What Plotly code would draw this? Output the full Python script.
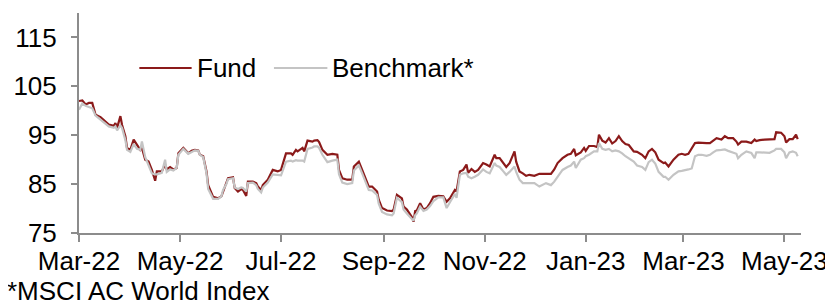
import plotly.graph_objects as go

dates = [
    "2022-03-01", "2022-03-03", "2022-03-05", "2022-03-07", "2022-03-09", "2022-03-11", "2022-03-14", "2022-03-17",
    "2022-03-19", "2022-03-22", "2022-03-23", "2022-03-24", "2022-03-26", "2022-03-27", "2022-03-29", "2022-03-30",
    "2022-04-01", "2022-04-03", "2022-04-05", "2022-04-07", "2022-04-08", "2022-04-10", "2022-04-12", "2022-04-14",
    "2022-04-16", "2022-04-17", "2022-04-20", "2022-04-22", "2022-04-23", "2022-04-25", "2022-04-27", "2022-04-29",
    "2022-04-30", "2022-05-03", "2022-05-06", "2022-05-08", "2022-05-10", "2022-05-12", "2022-05-13", "2022-05-15",
    "2022-05-17", "2022-05-18", "2022-05-21", "2022-05-24", "2022-05-26", "2022-05-27", "2022-05-29", "2022-05-30",
    "2022-06-02", "2022-06-03", "2022-06-05", "2022-06-07", "2022-06-08", "2022-06-10", "2022-06-11", "2022-06-14",
    "2022-06-16", "2022-06-17", "2022-06-19", "2022-06-20", "2022-06-23", "2022-06-26", "2022-06-29", "2022-07-01",
    "2022-07-04", "2022-07-07", "2022-07-08", "2022-07-10", "2022-07-11", "2022-07-14", "2022-07-15", "2022-07-17",
    "2022-07-20", "2022-07-21", "2022-07-23", "2022-07-24", "2022-07-26", "2022-07-29", "2022-08-01", "2022-08-04",
    "2022-08-05", "2022-08-07", "2022-08-10", "2022-08-13", "2022-08-14", "2022-08-17", "2022-08-19", "2022-08-22",
    "2022-08-23", "2022-08-25", "2022-08-28", "2022-08-29", "2022-08-31", "2022-09-03", "2022-09-06", "2022-09-07",
    "2022-09-09", "2022-09-12", "2022-09-13", "2022-09-15", "2022-09-18", "2022-09-19", "2022-09-20", "2022-09-21",
    "2022-09-23", "2022-09-25", "2022-09-27", "2022-09-29", "2022-10-01", "2022-10-04", "2022-10-07", "2022-10-09",
    "2022-10-11", "2022-10-14", "2022-10-15", "2022-10-17", "2022-10-19", "2022-10-21", "2022-10-22", "2022-10-24",
    "2022-10-26", "2022-10-28", "2022-10-31", "2022-11-02", "2022-11-04", "2022-11-07", "2022-11-08", "2022-11-10",
    "2022-11-12", "2022-11-14", "2022-11-16", "2022-11-19", "2022-11-20", "2022-11-22", "2022-11-24", "2022-11-26",
    "2022-11-28", "2022-12-01", "2022-12-04", "2022-12-08", "2022-12-11", "2022-12-13", "2022-12-15", "2022-12-18",
    "2022-12-21", "2022-12-23", "2022-12-25", "2022-12-26", "2022-12-29", "2022-12-31", "2023-01-01", "2023-01-03",
    "2023-01-06", "2023-01-08", "2023-01-09", "2023-01-11", "2023-01-13", "2023-01-15", "2023-01-17", "2023-01-19",
    "2023-01-21", "2023-01-23", "2023-01-25", "2023-01-27", "2023-01-30", "2023-02-01", "2023-02-04", "2023-02-06",
    "2023-02-08", "2023-02-10", "2023-02-12", "2023-02-14", "2023-02-17", "2023-02-18", "2023-02-20", "2023-02-23",
    "2023-02-26", "2023-02-28", "2023-03-02", "2023-03-04", "2023-03-06", "2023-03-08", "2023-03-10", "2023-03-12",
    "2023-03-15", "2023-03-17", "2023-03-19", "2023-03-21", "2023-03-24", "2023-03-26", "2023-03-28", "2023-03-31",
    "2023-04-02", "2023-04-03", "2023-04-05", "2023-04-08", "2023-04-11", "2023-04-13", "2023-04-14", "2023-04-16",
    "2023-04-19", "2023-04-22", "2023-04-25", "2023-04-26", "2023-04-29", "2023-05-01", "2023-05-02", "2023-05-04",
    "2023-05-06", "2023-05-08", "2023-05-09",
]

fund = [
    102.0, 102.1, 101.3, 101.6, 101.6, 99.2, 98.7, 97.8,
    97.2, 96.9, 97.5, 96.5, 98.9, 97.1, 94.8, 92.4,
    92.0, 94.1, 93.1, 92.0, 92.4, 90.0, 89.6, 87.9,
    85.7, 87.6, 87.6, 89.0, 88.0, 88.5, 88.0, 88.3,
    91.3, 92.4, 91.3, 91.8, 92.0, 91.9, 91.0, 90.7,
    87.6, 84.8, 82.4, 82.1, 82.5, 83.5, 85.5, 86.2,
    86.4, 84.2, 83.5, 84.0, 83.8, 82.6, 85.5, 85.5,
    85.2, 84.5, 83.8, 84.8, 85.9, 87.9, 87.6, 87.9,
    91.3, 91.3, 91.0, 92.0, 91.7, 92.4, 91.7, 93.9,
    93.7, 93.9, 94.0, 93.6, 92.0, 91.0, 91.2, 91.0,
    87.9, 86.2, 85.9, 85.9, 88.6, 89.6, 87.9, 85.2,
    84.5, 84.5, 83.5, 81.8, 80.1, 79.6, 79.5, 79.8,
    82.8, 82.1, 80.4, 79.8, 78.3, 77.3, 79.5, 79.6,
    81.1, 79.8, 80.1, 81.1, 82.4, 82.6, 82.5, 81.4,
    82.1, 83.8, 83.5, 87.6, 87.9, 89.0, 87.3, 88.1,
    87.5, 87.9, 89.3, 89.0, 88.6, 91.0, 90.3, 90.3,
    89.3, 88.5, 89.3, 91.7, 89.6, 87.6, 87.2, 86.7,
    86.9, 86.7, 87.1, 87.1, 87.1, 88.0, 89.3, 90.3,
    91.0, 91.2, 92.2, 90.9, 91.5, 92.4, 91.8, 92.8,
    92.8, 92.6, 95.1, 93.9, 93.5, 94.4, 93.3, 93.8,
    94.8, 93.8, 93.2, 93.0, 91.7, 91.6, 91.0, 90.3,
    91.7, 92.2, 91.5, 90.0, 89.3, 89.4, 88.6, 90.0,
    91.0, 91.2, 91.0, 91.2, 92.2, 93.4, 93.5, 93.4,
    93.4, 93.4, 93.9, 94.4, 94.1, 94.8, 94.4, 94.4,
    93.7, 93.1, 93.7, 93.7, 93.4, 94.1, 93.8, 94.0,
    94.1, 94.1, 94.2, 95.6, 95.5, 94.8, 93.5, 94.2,
    94.2, 95.1, 94.2,
]

benchmark = [
    100.2, 101.5, 101.0, 100.8, 100.5, 99.0, 98.2, 97.3,
    96.8, 96.5, 96.8, 96.0, 97.0, 96.5, 94.0, 92.0,
    91.6, 93.2, 92.2, 92.0, 93.7, 90.5, 89.0, 87.2,
    87.0, 87.0, 87.3, 90.0, 87.5, 88.0, 87.8, 88.3,
    91.0, 92.2, 91.2, 91.5, 91.9, 91.8, 91.0, 90.5,
    87.2, 84.0, 82.0, 82.0, 82.5, 83.8, 85.0, 86.0,
    86.2, 84.3, 84.0, 84.3, 84.2, 83.5, 85.2, 85.3,
    84.8, 84.0, 83.3, 84.3, 85.3, 87.0, 86.9, 86.8,
    89.6, 89.8, 89.6, 89.9, 89.8, 89.8, 89.6, 92.2,
    92.5, 92.7, 92.7, 92.4, 91.0, 89.5, 89.8, 90.0,
    87.0, 85.3, 85.0, 85.2, 87.8, 88.8, 87.2, 84.5,
    83.8, 83.7, 82.8, 81.0, 79.3, 78.8, 78.6, 79.0,
    82.2, 81.3, 79.8, 79.0, 78.0, 77.5, 78.6, 79.0,
    80.4, 79.5, 79.8, 80.5, 81.5, 82.3, 82.3, 80.1,
    81.3, 83.0, 82.2, 86.9, 87.2, 87.3, 86.5, 86.2,
    86.5, 86.9, 88.0, 87.5, 87.2, 89.3, 88.8, 88.5,
    87.7, 86.9, 87.5, 88.6, 87.5, 85.9, 85.2, 85.2,
    85.3, 85.2, 84.5, 85.2, 84.8, 85.5, 86.5, 87.9,
    88.5, 88.8, 89.6, 88.3, 90.0, 90.3, 90.7, 91.0,
    91.7, 91.7, 93.4, 92.2, 92.0, 92.2, 91.7, 91.9,
    91.7, 91.3, 90.7, 90.3, 89.6, 88.8, 88.5, 87.9,
    89.5, 90.0, 89.2, 87.5, 86.5, 86.5, 85.9, 86.9,
    87.6, 87.7, 87.8, 88.0, 88.2, 90.7, 91.0, 91.0,
    90.8, 91.0, 91.5, 91.9, 92.0, 92.1, 91.8, 91.5,
    91.2, 90.3, 91.0, 91.7, 91.4, 90.3, 91.5, 91.5,
    91.5, 91.4, 91.9, 92.2, 92.2, 91.5, 90.3, 91.5,
    91.7, 91.4, 90.7,
]

tick_dates = ["2022-03-01", "2022-05-01", "2022-07-01", "2022-09-01", "2022-11-01",
              "2023-01-01", "2023-03-01", "2023-05-01"]
tick_labels = ["Mar-22", "May-22", "Jul-22", "Sep-22", "Nov-22", "Jan-23", "Mar-23", "May-23"]
y_ticks = [75, 85, 95, 105, 115]

FUND_COLOR = "#8B1A1A"
BENCH_COLOR = "#C4C4C4"
AXIS_COLOR = "#8C8C8C"
FONT = "Liberation Sans, Arial, sans-serif"
FS = 26

fig = go.Figure()
fig.add_trace(go.Scatter(x=dates, y=fund, mode="lines", name="Fund",
                         line=dict(color=FUND_COLOR, width=2.2), showlegend=False))
fig.add_trace(go.Scatter(x=dates, y=benchmark, mode="lines", name="Benchmark*",
                         line=dict(color=BENCH_COLOR, width=2.2), showlegend=False))

# manual legend
fig.add_shape(type="line", xref="paper", yref="paper", x0=0.0836, x1=0.156, y0=0.75, y1=0.75,
              line=dict(color=FUND_COLOR, width=2.2))
fig.add_annotation(xref="paper", yref="paper", x=0.161, y=0.75, text="Fund", showarrow=False,
                   xanchor="left", yanchor="middle", font=dict(size=FS, color="black", family=FONT))
fig.add_shape(type="line", xref="paper", yref="paper", x0=0.270, x1=0.344, y0=0.75, y1=0.75,
              line=dict(color=BENCH_COLOR, width=2.2))
fig.add_annotation(xref="paper", yref="paper", x=0.347, y=0.75, text="Benchmark*", showarrow=False,
                   xanchor="left", yanchor="middle", font=dict(size=FS, color="black", family=FONT))

# footnote
fig.add_annotation(xref="paper", yref="paper", x=-0.103, y=-0.262, text="*MSCI AC World Index",
                   showarrow=False, xanchor="left", yanchor="middle",
                   font=dict(size=FS, color="black", family=FONT))

fig.update_layout(
    width=825, height=297,
    margin=dict(l=68, r=27, t=5, b=72),
    paper_bgcolor="white", plot_bgcolor="white",
    font=dict(family=FONT, size=FS, color="black"),
    xaxis=dict(
        type="date", range=["2022-03-01", "2023-05-11"],
        tickvals=tick_dates, ticktext=tick_labels,
        showgrid=False, zeroline=False,
        showline=True, linecolor=AXIS_COLOR, linewidth=2,
        ticks="outside", ticklen=7, tickwidth=2, tickcolor=AXIS_COLOR,
        ticklabelstandoff=-3,
        tickfont=dict(size=FS, family=FONT, color="black"),
    ),
    yaxis=dict(
        range=[75, 120], tickvals=y_ticks,
        showgrid=False, zeroline=False,
        showline=True, linecolor=AXIS_COLOR, linewidth=2,
        ticks="outside", ticklen=6, tickwidth=2, tickcolor=AXIS_COLOR,
        ticklabelstandoff=9,
        tickfont=dict(size=FS, family=FONT, color="black"),
    ),
)

fig.write_html("out.html")
